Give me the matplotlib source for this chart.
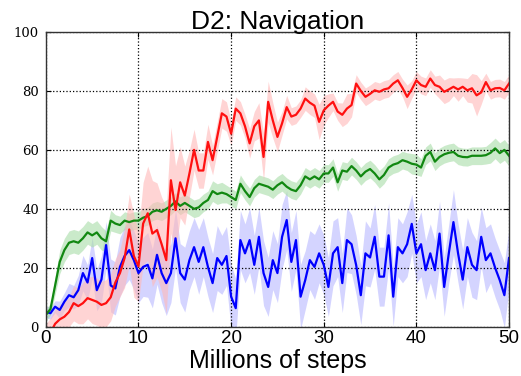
import numpy as np
import matplotlib
matplotlib.use("Agg")
import matplotlib.pyplot as plt

# millions of steps, sampled every 0.5M
steps = np.arange(0, 50.01, 0.5)

red_mean = [-4, -2, 1, 2.5, 3.4, 5, 8, 7, 8, 9.7,
            9.1, 8.5, 7.4, 8, 10, 15, 18.2, 23.3, 33, 24,
            20.5, 35, 38.5, 31.6, 32.8, 28, 22.6, 49.7, 39.6, 49,
            44.5, 52, 60, 53, 53, 62.7, 56.5, 64.4, 72.4, 71.3,
            65.5, 74, 72.4, 68, 62.2, 68, 70, 57.6, 76.3, 70,
            64.4, 69, 74.5, 71.3, 71.9, 74, 77.4, 76, 75, 69.5,
            73.4, 75, 76.3, 73, 71.9, 74, 75.2, 82.5, 80, 78,
            79, 80.2, 79.7, 80.5, 80.9, 82.5, 83.6, 81, 78, 80.5,
            83.6, 82, 81.4, 84.2, 82, 81.4, 79.7, 80.5, 81.4, 80.5,
            81.4, 80.2, 80.9, 78.5, 79.5, 83, 80.2, 80.9, 81, 80.2,
            82.5]
red_spread = [5, 5, 5, 5, 5, 5,
              6, 6, 7, 7, 8, 8, 8,
              8, 8, 8, 8,
              10, 12, 14, 12,
              14, 16, 18, 16, 16, 18,
              18, 15, 12, 10, 8, 7,
              6, 6, 6, 5, 5, 5, 5, 4,
              4, 4, 4, 5, 5, 6, 8, 7, 6, 5,
              4, 4, 3, 3, 3, 4, 4, 4, 6, 5,
              4, 3, 3, 4, 5, 4, 3, 3, 3, 3,
              3, 3, 3, 3, 3, 3, 3, 4, 3, 3,
              3, 3, 3, 3, 4, 4, 4, 3, 4, 3,
              4, 5, 7, 4, 3, 3, 3, 3, 3, 3]

green_mean = [4, 6, 14, 22, 26, 28.5, 29, 28.5, 30, 32,
              31, 32, 30, 29, 36, 35, 34.5, 36, 35.5, 36,
              36, 37, 37.5, 39, 39.5, 39, 40, 41, 42.5, 41,
              42, 41, 40, 40.5, 42, 43, 46, 45, 45.5, 45,
              44, 43, 48.5, 46, 44, 47, 48.5, 48, 47.5, 46.5,
              48, 49, 47.5, 46.5, 46, 48, 51, 50, 51, 50,
              52, 52, 54, 49, 53, 52.6, 54.5, 53, 51, 52.6,
              53.5, 52, 50, 51.5, 54, 55, 55.5, 56.5, 56, 55.3,
              55, 54, 58, 59.3, 56, 57.6, 58.5, 59, 59.3, 58,
              57.6, 57.5, 58, 58, 58, 58.2, 59, 60.5, 58.9, 60,
              58]
green_spread = [2, 2, 3, 4, 4, 4, 4, 4, 4, 4,
                4, 4, 4, 3.5, 3.5, 3, 3, 3, 3, 3,
                3, 3, 3, 3, 3, 3, 3, 3, 3, 3,
                3, 3, 3, 3, 3, 3, 3.5, 3.5, 3.5, 3,
                3, 3, 3, 3, 3, 3, 3, 3, 3, 3,
                3, 3, 3, 3, 3, 3, 3, 3, 3, 3,
                3, 3, 3, 3, 3, 3, 3, 3, 3, 3,
                3, 3, 3, 3, 3, 3, 3, 3, 3, 3.5,
                3.5, 3, 3, 3, 3, 3, 3, 3, 3, 3,
                3, 3, 3, 3, 3, 3, 3.5, 3.5, 3.5, 3.5,
                3.5]

blue_mean = [5, 4.6, 6.8, 5.7, 8.5, 10.7, 10, 12.4, 18.2, 15,
             23.3, 12.4, 16, 27.7, 14, 13, 20.3, 24, 26, 22.6,
             18.2, 20.3, 21, 16.4, 24.4, 18.2, 14.8, 18.2, 30, 18.2,
             16, 22.6, 27, 22, 27, 20.3, 14.8, 23.3, 21, 24,
             10.2, 6.3, 29.4, 24.9, 29.4, 21, 30.5, 18.2, 13.5, 22.6,
             18.2, 30.5, 36.2, 22, 29.4, 10.2, 15.8, 22.6, 20.3, 24.9,
             21, 13.5, 24.9, 27, 14.8, 29.4, 28, 20.9, 10.7, 24.9,
             23.5, 30.5, 17, 17, 31, 10.2, 27, 24.9, 28, 34.9,
             24.9, 28, 19.2, 24.9, 19.2, 31.6, 13.5, 24.9, 35.5, 24.9,
             16, 27, 21, 19.2, 30.5, 22.6, 24.9, 20, 15.8, 10.7,
             23.3]
blue_spread = [2, 2, 2, 3, 3, 4, 4, 5, 6, 6,
               7, 7, 8, 8, 9, 9, 10, 10, 10, 10,
               10, 10, 11, 10, 10, 10, 11, 10, 10, 10,
               11, 10, 10, 11, 10, 10, 10, 11, 10, 10,
               11, 10, 10, 10, 11, 10, 10, 11, 10, 10,
               10, 11, 10, 10, 10, 11, 10, 10, 11, 10,
               10, 10, 11, 10, 10, 11, 10, 10, 10, 11,
               10, 11, 10, 10, 11, 10, 10, 10, 11, 10,
               10, 11, 10, 10, 10, 11, 10, 10, 11, 10,
               10, 10, 11, 10, 10, 11, 10, 10, 10, 11,
               10]

series = [
    (blue_mean, blue_spread, '#0000ff', '#b8b8ff'),
    (green_mean, green_spread, '#118811', '#a8dca8'),
    (red_mean, red_spread, '#ff1010', '#ffb8b8'),
]

fig = plt.figure(figsize=(5.21, 3.76), dpi=100)
ax = fig.add_axes([0.088, 0.131, 0.889, 0.784])

for mean, spread, col, fill_col in series:
    m = np.array(mean)
    s = np.array(spread)
    ax.fill_between(steps, m - s, m + s, color=fill_col, alpha=0.6, linewidth=0)
for mean, spread, col, fill_col in series:
    ax.plot(steps, mean, color=col, linewidth=1.6)

ax.set_xlim(0, 50)
ax.set_ylim(0, 100)
ax.set_xticks([0, 10, 20, 30, 40, 50])
ax.set_yticks([0, 20, 40, 60, 80, 100])
ax.grid(True, color='black', linestyle=':', linewidth=0.9)
ax.tick_params(axis='x', labelsize=13.5, direction='in', top=True, pad=2)
ax.tick_params(axis='y', labelsize=9.5, direction='in', right=True, pad=5)
for lbl in ax.get_yticklabels():
    lbl.set_fontfamily('DejaVu Serif')
for lbl in ax.get_xticklabels():
    lbl.set_fontfamily('Liberation Sans')
for sp in ax.spines.values():
    sp.set_color('#333333')
    sp.set_linewidth(1.0)

ax.set_title('D2: Navigation', fontsize=19, fontfamily='Liberation Sans', pad=2)
ax.set_xlabel('Millions of steps', fontsize=18, fontfamily='Liberation Sans', labelpad=2)

fig.savefig('out.png', dpi=100)
